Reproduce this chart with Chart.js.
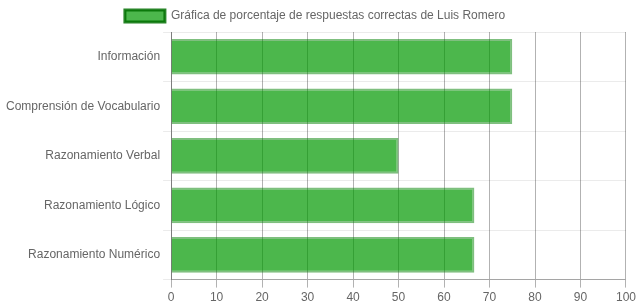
<!DOCTYPE html>
<html>
<head>
<meta charset="utf-8">
<script src="https://cdn.jsdelivr.net/npm/chart.js@4/dist/chart.umd.min.js"></script>
<style>
html,body{margin:0;padding:0;background:#fff;}
#wrap{width:639px;height:308px;}
</style>
</head>
<body>
<div id="wrap"><canvas id="c" width="639" height="308"></canvas></div>
<script>
const categories = ["Información","Comprensión de Vocabulario","Razonamiento Verbal","Razonamiento Lógico","Razonamiento Numérico"];
const seriesLabel = "Gráfica de porcentaje de respuestas correctas de Luis Romero";
const values = [75, 75, 50, 66.67, 66.67];
const xTicks = [0,10,20,30,40,50,60,70,80,90,100];

Chart.defaults.font.family = "'Liberation Sans', Arial, sans-serif";
Chart.defaults.font.size = 12;
Chart.defaults.color = "#666";

new Chart(document.getElementById('c'), {
  type: 'bar',
  data: {
    labels: categories,
    datasets: [{
      label: seriesLabel,
      data: values,
      backgroundColor: 'rgba(0,153,0,0.7)',
      borderColor: 'rgba(0,128,0,0.5)',
      borderWidth: 2
    }]
  },
  options: {
    indexAxis: 'y',
    responsive: false,
    animation: false,
    devicePixelRatio: 1,
    layout: {padding: {left: 3, right: 12}},
    plugins: {
      legend: {
        labels: {
          boxWidth: 40,
          font: {size: 12},
          generateLabels: function(chart) {
            const items = Chart.defaults.plugins.legend.labels.generateLabels(chart);
            items.forEach(it => { it.lineWidth = 3; it.strokeStyle = 'rgba(0,110,0,0.85)'; });
            return items;
          }
        }
      },
      tooltip: {enabled: false}
    },
    scales: {
      x: {
        min: xTicks[0], max: xTicks[xTicks.length-1],
        ticks: {stepSize: 10},
        grid: {color: 'rgba(0,0,0,0.3)'},
        border: {color: 'rgba(0,0,0,0.3)'}
      },
      y: {
        grid: {color: 'rgba(0,0,0,0.08)'},
        border: {color: 'rgba(0,0,0,0.3)'}
      }
    }
  }
});
</script>
</body>
</html>
